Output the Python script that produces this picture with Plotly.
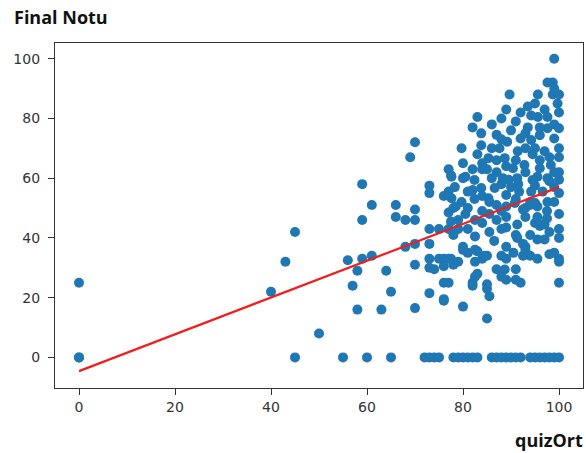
import plotly.graph_objects as go

# scatter data: (quizOrt, Final Notu)
points = [
    (0, 25), (0, 0), (0, 0),
    (40, 22), (43, 32), (45, 42), (45, 0), (50, 8),
    (55, 0), (60, 0), (65, 0),
    (59, 58), (61, 51), (59, 46), (66, 51), (66, 47), (68, 46), (68, 37), (56, 32.5), (59, 33),
    (61, 34), (58, 29), (64, 29), (57, 24), (65, 22), (58, 16), (63, 16),
    (70, 72), (69, 67), (73, 57.5), (73, 55), (76, 54), (77, 63), (77.5, 61), (77, 55.5),
    (70, 49.5), (70, 46), (73, 43), (75, 43), (77, 43), (73, 38), (70, 38), (70, 31), (73, 33),
    (73, 30), (74, 29.5), (75, 33), (76, 33), (77, 33), (76, 25), (73, 21.5), (76, 19), (70, 16.5),
    (72, 0), (73, 0), (74, 0), (75, 0), (78, 0), (79, 0), (80, 0), (81, 0), (82, 0), (83, 0),
    (86, 0), (87, 0), (88, 0), (89, 0), (90, 0), (91, 0), (92, 0), (94, 0), (95, 0), (96, 0),
    (97, 0), (98, 0), (99, 0), (100, 0),
    (80, 17), (85, 13), (85.5, 20.5), (85, 23), (82, 25), (83, 28), (87, 29.5), (89, 26), (91, 29.5),
    (92, 25), (89, 33), (100, 25), (100, 33), (98, 34.5), (94, 34), (92.5, 34), (89, 37), (93, 37),
    (95.5, 39.5), (97, 39.5), (100, 48), (100, 43), (100, 40), (95.5, 47), (97, 44.5), (86.5, 39),
    (85.5, 42), (88, 43), (89, 43.5), (91, 41), (84, 33), (82.5, 32), (81, 35), (80, 36), (83, 35.5),
    (84.5, 34), (78, 41), (79, 43), (81, 43), (82.5, 40.5), (84, 45), (85.5, 48), (88, 49), (89, 50.5),
    (93, 50), (94, 51), (95.5, 50.5), (97.5, 49), (97.5, 46.5), (96, 44.5), (94, 41), (91.3, 40),
    (91.3, 44.5), (77, 48.5), (78, 50), (77.5, 45.5), (78, 31), (77, 25),
    (80.5, 48), (82.5, 46), (79, 46), (78.5, 50.5), (80, 37), (82.5, 36), (92.5, 38), (96, 44),
    (92.5, 49.5), (94, 52), (91, 53), (85.5, 52), (84, 54), (88, 58), (89.5, 59.5), (91.5, 58),
    (95.5, 60.5), (99, 62), (100, 59.5), (80.5, 60.5), (84, 63), (82, 56), (85, 34), (88, 34),
    (90.5, 35), (93, 36), (95.5, 33), (99, 35), (100, 32), (77.5, 33), (79, 32), (76, 30.5),
    (88.7, 29.4), (88, 27), (82.5, 27), (85, 24.5), (91, 26), (82, 24), (76, 19.5),
    (99, 100), (98.7, 92), (97.6, 92), (89.7, 88), (95.6, 88), (98.7, 88), (89, 83), (93.5, 84),
    (99.7, 85), (100, 82), (97.6, 80.5), (95.6, 80.5), (94.2, 81), (83, 80.5), (88, 80), (82, 77),
    (87, 74.5), (86, 78), (91, 79), (93.5, 77), (97.6, 76.7), (100, 76.7), (79.7, 70), (83.8, 71),
    (83, 68), (77.6, 60.5), (80, 60), (82.4, 59.4), (85, 63), (85.3, 66.7), (87.6, 70), (89.2, 72.2),
    (92, 73.3), (94.2, 72.8), (96, 74.4), (99, 73.3), (100, 70), (97, 69), (94.5, 68), (91.4, 69),
    (88.7, 66.7), (90.4, 63.3), (92.8, 64.4), (96, 63.3), (98.3, 64.4), (100, 62), (97.6, 60),
    (94.5, 59.4), (91.3, 60), (88.3, 60), (86.6, 56.7), (83.8, 56.7), (81, 55.5), (78.3, 57),
    (77.6, 53.3), (79.7, 52), (82.4, 53), (85.3, 53.3), (89, 54.4), (91.7, 55.5), (94.2, 55.5),
    (96.6, 55.5), (99, 57), (100, 55), (97.6, 52), (95, 51.7), (90.8, 51.7), (87, 51), (83.8, 75),
    (93, 75), (95, 70), (98, 67), (96, 66), (93, 62), (90, 57), (95, 57.5), (98, 59), (87, 62),
    (89, 64), (91, 66), (93, 70), (99, 78), (97, 83), (95, 85), (92, 82), (90, 76), (88, 73),
    (86, 70), (84, 65), (96, 77), (100, 67), (99, 52), (93, 47), (87, 46), (84, 49), (81, 50),
    (89, 47), (95, 45), (98, 42), (86, 60), (80, 65), (82, 63), (87, 66), (99, 90), (100, 88),
]
quiz_ort = [p[0] for p in points]
final_notu = [p[1] for p in points]

# regression line
line_x = [0, 100]
line_y = [-4.6, 57.0]

x_ticks = [0, 20, 40, 60, 80, 100]
y_ticks = [0, 20, 40, 60, 80, 100]

fig = go.Figure()
fig.add_trace(go.Scatter(
    x=quiz_ort, y=final_notu, mode="markers",
    marker=dict(color="#1f77b4", size=10, line=dict(width=0)),
    showlegend=False,
))
fig.add_trace(go.Scatter(
    x=line_x, y=line_y, mode="lines",
    line=dict(color="#f01e1e", width=2.2),
    showlegend=False,
))

axis_common = dict(
    showgrid=False, zeroline=False, showline=True, linecolor="#333333", linewidth=1.2,
    mirror=True, ticks="outside", ticklen=6, tickwidth=1, tickcolor="#333333",
    tickfont=dict(family="DejaVu Sans", size=14, color="#333333"),
)
fig.update_xaxes(range=[-5, 105], tickvals=x_ticks, **axis_common)
fig.update_yaxes(range=[-10.25, 105.25], tickvals=y_ticks, ticklabelstandoff=5, **axis_common)

# plot area spans x 55..583, y 43..388 of the 586x453 page
fig.update_layout(
    width=586, height=453,
    margin=dict(l=55, r=3, t=43, b=65),
    plot_bgcolor="white", paper_bgcolor="white",
    annotations=[
        dict(text="<b>Final Notu</b>", xref="paper", yref="paper", x=-0.0814, y=1.0754,
             xanchor="left", yanchor="middle", showarrow=False,
             font=dict(family="Open Sans", size=18, color="#111111")),
        dict(text="<b>quizOrt</b>", xref="paper", yref="paper", x=1.004, y=-0.1507,
             xanchor="right", yanchor="middle", showarrow=False,
             font=dict(family="Open Sans", size=18, color="#111111")),
    ],
)

fig.write_html(
    "out.html",
    config={"displayModeBar": False},
    post_script="document.body.style.margin='0';document.body.style.overflow='hidden';",
)
